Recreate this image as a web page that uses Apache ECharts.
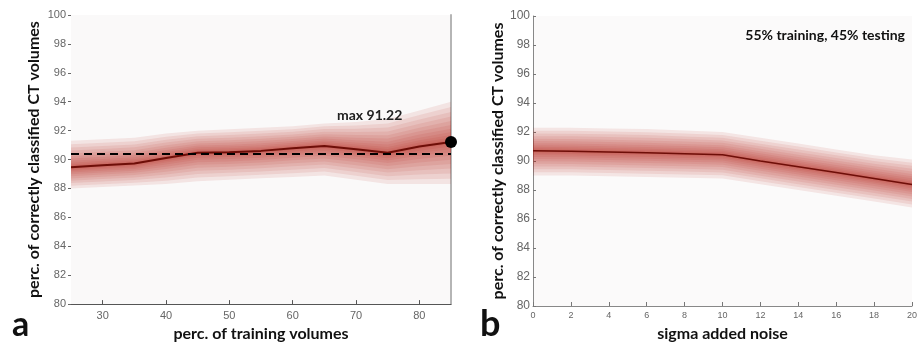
<!DOCTYPE html>
<html>
<head>
<meta charset="utf-8">
<script src="https://cdn.jsdelivr.net/npm/echarts@6/dist/echarts.min.js"></script>
<style>
  html, body { margin: 0; padding: 0; background: #ffffff; }
  #chart { width: 921px; height: 347px; }
</style>
</head>
<body>
<div id="chart"></div>
<script>
// panel a: accuracy vs. share of training volumes
const trainX = [25, 30, 35, 40, 45, 50, 55, 60, 65, 70, 75, 80, 85];
const trainMean = [89.46, 89.6, 89.72, 90.1, 90.47, 90.5, 90.6, 90.78, 90.94, 90.72, 90.47, 90.9, 91.22];
const trainUpper = [91.3, 91.4, 91.5, 91.8, 92.0, 92.1, 92.2, 92.3, 92.5, 92.6, 92.8, 93.4, 94.0];
const trainLower = [88.0, 88.1, 88.2, 88.3, 88.5, 88.6, 88.7, 88.8, 88.9, 88.6, 88.3, 88.3, 88.3];
const trainAvg = 90.38;
const trainMax = 91.22;

// panel b: accuracy vs. added noise
const noiseX = [0, 2, 4, 6, 8, 10, 12, 14, 16, 18, 20];
const noiseMean = [90.7, 90.67, 90.62, 90.57, 90.5, 90.43, 90.0, 89.6, 89.2, 88.8, 88.38];
const noiseUpper = [92.3, 92.3, 92.25, 92.2, 92.1, 92.0, 91.6, 91.2, 90.8, 90.4, 90.1];
const noiseLower = [89.0, 89.0, 88.95, 88.9, 88.85, 88.8, 88.4, 88.0, 87.6, 87.2, 86.8];

const LAYERS = 12;
const bandColor = 'rgba(180, 35, 18, 0.095)';
const lineColor = '#6e0e08';

// nested shaded bands, denser near the mean, fading out to the envelope
function bands(xs, mean, up, lo, gridIdx) {
  const layers = [];
  for (let i = 1; i <= LAYERS; i++) layers.push([Math.pow(i / LAYERS, 1.6)]);
  return {
    type: 'custom', xAxisIndex: gridIdx, yAxisIndex: gridIdx, silent: true, z: 1,
    data: layers,
    renderItem(params, api) {
      const f = api.value(0);
      const top = xs.map((x, k) => api.coord([x, mean[k] + f * (up[k] - mean[k])]));
      const bot = xs.map((x, k) => api.coord([x, mean[k] - f * (mean[k] - lo[k])])).reverse();
      return {
        type: 'polygon',
        shape: { points: top.concat(bot) },
        style: { fill: bandColor, stroke: null }
      };
    }
  };
}

const tickFont = { color: '#666', fontFamily: 'Liberation Sans', fontSize: 11 };
const nameFont = { color: '#111', fontFamily: 'Lato', fontWeight: 'bold', fontSize: 16 };
const yName = 'perc. of correctly classified CT volumes';

const chart = echarts.init(document.getElementById('chart'));
chart.setOption({
  backgroundColor: '#ffffff',
  animation: false,
  grid: [
    { left: 71, right: 470, top: 15, bottom: 34, show: true, backgroundColor: '#faf9f9', borderWidth: 0 },
    { left: 533, right: 9, top: 16, bottom: 34, show: true, backgroundColor: '#fbfafa', borderWidth: 0 }
  ],
  xAxis: [
    {
      gridIndex: 0, type: 'value', min: 25, max: 85, interval: 5,
      name: 'perc. of training volumes', nameLocation: 'middle', nameGap: 20, nameTextStyle: nameFont,
      axisLine: { lineStyle: { color: '#555', width: 1 } },
      axisTick: { inside: true, length: 4, lineStyle: { color: '#555' },
        customValues: [30, 40, 50, 60, 70, 80] },
      axisLabel: { ...tickFont, margin: 6, customValues: [30, 40, 50, 60, 70, 80] },
      splitLine: { show: false }
    },
    {
      gridIndex: 1, type: 'value', min: 0, max: 20, interval: 2,
      name: 'sigma added noise', nameLocation: 'middle', nameGap: 20, nameTextStyle: nameFont,
      axisLine: { lineStyle: { color: '#888', width: 1 } },
      axisTick: { inside: true, length: 4, lineStyle: { color: '#777' } },
      axisLabel: { ...tickFont, fontSize: 9, margin: 5 },
      splitLine: { show: false }
    }
  ],
  yAxis: [
    {
      gridIndex: 0, type: 'value', min: 80, max: 100, interval: 2,
      name: yName, nameLocation: 'middle', nameGap: 29, nameTextStyle: nameFont,
      axisLine: { show: false },
      axisTick: { show: true, length: 3, lineStyle: { color: '#666' } },
      axisLabel: { ...tickFont, margin: 5 },
      splitLine: { show: false }
    },
    {
      gridIndex: 1, type: 'value', min: 80, max: 100, interval: 2,
      name: yName, nameLocation: 'middle', nameGap: 24, nameTextStyle: nameFont,
      axisLine: { show: true, lineStyle: { color: '#888', width: 1 } },
      axisTick: { inside: true, length: 3, lineStyle: { color: '#777' } },
      axisLabel: { ...tickFont, fontSize: 12, margin: 3 },
      splitLine: { show: false }
    },
    {
      gridIndex: 0, type: 'value', min: 80, max: 100, position: 'right',
      axisLine: { show: true, lineStyle: { color: '#b5b5b5', width: 2 } },
      axisTick: { show: false }, axisLabel: { show: false }, splitLine: { show: false }
    }
  ],
  series: [
    bands(trainX, trainMean, trainUpper, trainLower, 0),
    bands(noiseX, noiseMean, noiseUpper, noiseLower, 1),
    {
      type: 'line', xAxisIndex: 0, yAxisIndex: 0, z: 3,
      data: trainX.map((x, k) => [x, trainMean[k]]),
      showSymbol: false, lineStyle: { color: lineColor, width: 2 },
      markLine: {
        silent: true, symbol: 'none', label: { show: false },
        lineStyle: { color: '#000', type: [8, 5], width: 2 },
        data: [{ yAxis: trainAvg }]
      }
    },
    {
      type: 'scatter', xAxisIndex: 0, yAxisIndex: 0, z: 5,
      data: [[trainX[trainX.length - 1], trainMax]],
      symbolSize: 12, itemStyle: { color: '#000', opacity: 1 },
      label: {
        show: true, position: [-108, -27], formatter: 'max ' + trainMax.toFixed(2),
        color: '#222', fontFamily: 'Lato', fontWeight: 'bold', fontSize: 14
      }
    },
    {
      type: 'line', xAxisIndex: 1, yAxisIndex: 1, z: 3,
      data: noiseX.map((x, k) => [x, noiseMean[k]]),
      showSymbol: false, lineStyle: { color: lineColor, width: 1.5 }
    }
  ],
  graphic: [
    { type: 'text', left: 12, top: 308, style: { text: 'a', font: 'bold 34px Lato', fill: '#111' } },
    { type: 'text', left: 480, top: 306, style: { text: 'b', font: 'bold 36px Lato', fill: '#111' } },
    { type: 'text', right: 16, top: 28, style: { text: '55% training, 45% testing', font: 'bold 14px Lato', fill: '#111' } }
  ]
});
</script>
</body>
</html>
